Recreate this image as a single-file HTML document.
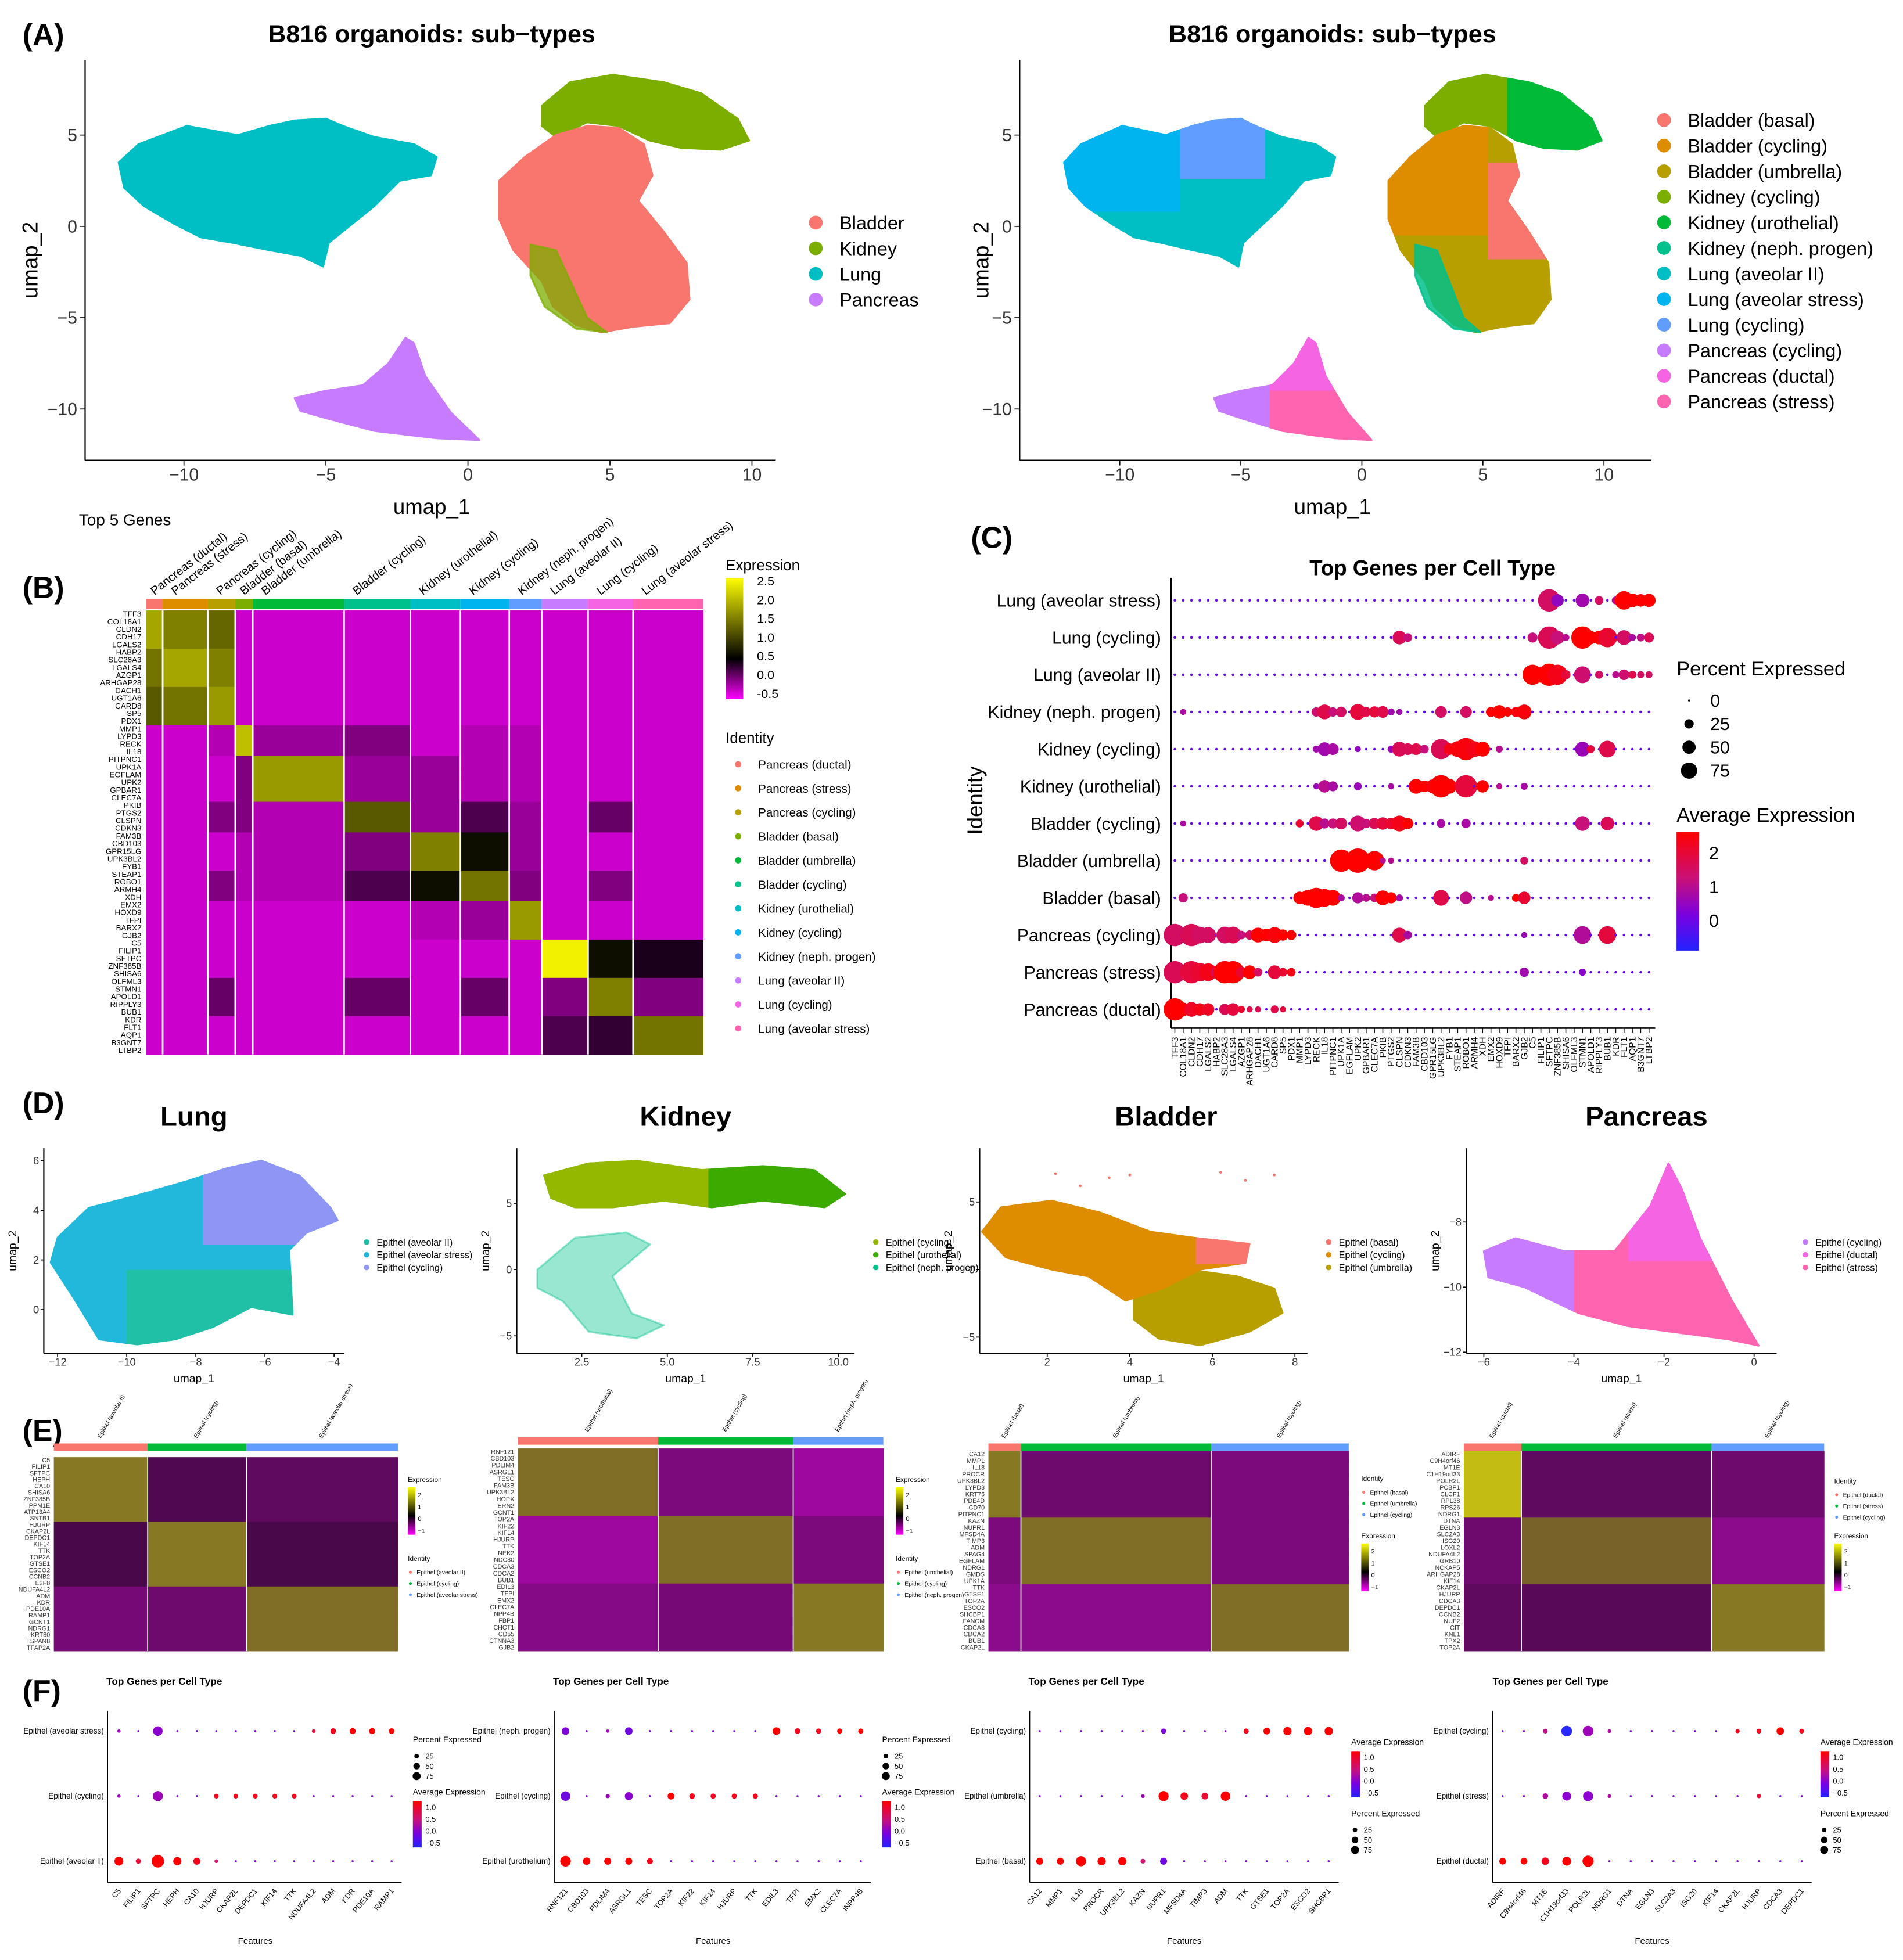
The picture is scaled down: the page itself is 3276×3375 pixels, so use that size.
<!DOCTYPE html>
<html><head><meta charset="utf-8">
<style>html,body{margin:0;padding:0;background:#fff}svg{display:block}text{font-family:"Liberation Sans",Arial,sans-serif}</style>
</head><body>
<svg id="fig" xmlns="http://www.w3.org/2000/svg" width="3276" height="3375" viewBox="0 0 1521 1567">
<defs id="defs">
<linearGradient id="gB" x1="0" y1="0" x2="0" y2="1"><stop offset="0" stop-color="#ffff00"/><stop offset="0.667" stop-color="#000000"/><stop offset="1" stop-color="#ff00ff"/></linearGradient>
<linearGradient id="gC" x1="0" y1="0" x2="0" y2="1"><stop offset="0" stop-color="#ff0000"/><stop offset="0.4" stop-color="#c8107a"/><stop offset="0.7" stop-color="#7a00e0"/><stop offset="1" stop-color="#2222ff"/></linearGradient>
<linearGradient id="gE" x1="0" y1="0" x2="0" y2="1"><stop offset="0" stop-color="#ffff00"/><stop offset="0.6" stop-color="#000000"/><stop offset="1" stop-color="#ff00ff"/></linearGradient>
</defs>
<rect x="0" y="0" width="1521" height="1567" fill="#fff"/>
</svg>
<script>
// ===================== DATA =====================
const genes=['TFF3','COL18A1','CLDN2','CDH17','LGALS2','HABP2','SLC28A3','LGALS4','AZGP1','ARHGAP28','DACH1','UGT1A6','CARD8','SP5','PDX1','MMP1','LYPD3','RECK','IL18','PITPNC1','UPK1A','EGFLAM','UPK2','GPBAR1','CLEC7A','PKIB','PTGS2','CLSPN','CDKN3','FAM3B','CBD103','GPR15LG','UPK3BL2','FYB1','STEAP1','ROBO1','ARMH4','XDH','EMX2','HOXD9','TFPI','BARX2','GJB2','C5','FILIP1','SFTPC','ZNF385B','SHISA6','OLFML3','STMN1','APOLD1','RIPPLY3','BUB1','KDR','FLT1','AQP1','B3GNT7','LTBP2'];
const cellTypes=['Pancreas (ductal)','Pancreas (stress)','Pancreas (cycling)','Bladder (basal)','Bladder (umbrella)','Bladder (cycling)','Kidney (urothelial)','Kidney (cycling)','Kidney (neph. progen)','Lung (aveolar II)','Lung (cycling)','Lung (aveolar stress)'];
const cellColors=['#F8766D','#DE8C00','#B79F00','#7CAE00','#00BA38','#00C08B','#00BFC4','#00B4F0','#619CFF','#C77CFF','#F564E3','#FF64B0'];
const cellCountsB=[13,36,22,14,73,53,40,39,26,37,36,56];
const geneGroupB=[0,0,0,0,0,1,1,1,1,1,2,2,2,2,2,3,3,3,3,4,4,4,4,4,4,5,5,5,5,6,6,6,6,6,7,7,7,7,8,8,8,8,8,9,9,9,9,9,10,10,10,10,10,11,11,11,11,11];
const blockB=[
[1.8,1.5,1.3,-.3,-.3,-.3,-.3,-.3,-.3,-.3,-.3,-.3],
[1.4,1.8,1.5,-.3,-.3,-.3,-.3,-.3,-.3,-.3,-.3,-.3],
[1.2,1.4,1.7,-.3,-.3,-.3,-.3,-.3,-.3,-.3,-.3,-.3],
[-.3,-.3,-.2,2.0,-.1,0.0,-.3,-.2,-.2,-.3,-.3,-.3],
[-.3,-.3,-.3,0.0,1.7,-.1,-.1,-.2,-.2,-.3,-.3,-.3],
[-.3,-.3,0.0,0.0,-.2,1.2,-.1,0.2,-.1,-.3,0.1,-.3],
[-.3,-.3,-.3,-.2,-.2,0.0,1.5,0.6,-.1,-.3,-.3,-.3],
[-.3,-.3,0.0,-.2,-.2,0.2,0.6,1.4,0.0,-.3,0.0,-.3],
[-.3,-.3,-.3,-.3,-.3,-.3,-.2,-.1,1.7,-.3,-.3,-.3],
[-.3,-.3,-.3,-.3,-.3,-.3,-.3,-.3,-.3,2.4,0.6,0.4],
[-.3,-.3,0.1,-.3,-.3,0.1,-.3,0.1,-.3,0.0,1.5,0.0],
[-.3,-.3,-.3,-.3,-.3,-.3,-.3,-.3,-.3,0.2,0.3,1.4]];
const bTicks=['2.5','2.0','1.5','1.0','0.5','0.0','-0.5'];

// Panel A (UMAP outlines, data units)
const lungPoly=[[-12.3,3.5],[-11.6,4.5],[-9.9,5.5],[-8.1,5.0],[-7.0,5.5],[-6.1,5.8],[-5.0,5.9],[-4.4,5.5],[-3.3,4.9],[-1.9,4.5],[-1.1,3.8],[-1.3,2.8],[-2.4,2.5],[-3.3,1.1],[-4.1,0.1],[-4.9,-0.9],[-5.1,-2.2],[-5.9,-1.6],[-7.0,-1.3],[-8.3,-0.9],[-9.4,-0.6],[-10.3,0.1],[-11.4,1.1],[-12.1,2.1]];
const pancPoly=[[-6.1,-9.4],[-5.0,-9.0],[-3.7,-8.7],[-2.8,-7.5],[-2.2,-6.1],[-1.9,-6.4],[-1.5,-8.2],[-0.6,-10.2],[0.4,-11.7],[-1.1,-11.6],[-3.3,-11.2],[-5.0,-10.5],[-5.9,-10.1]];
const kidTopPoly=[[2.6,6.6],[3.6,7.9],[5.1,8.3],[6.9,7.9],[8.2,7.3],[9.5,5.9],[9.9,4.7],[8.9,4.2],[7.5,4.3],[6.4,4.7],[5.3,5.5],[4.2,5.7],[3.1,4.9],[2.6,5.5]];
const kidLowPoly=[[2.2,-1.0],[3.1,-1.3],[4.2,-5.0],[4.9,-5.8],[3.8,-5.6],[2.7,-4.4],[2.2,-2.7]];
const bladPoly=[[1.1,2.5],[2.0,3.8],[3.1,5.0],[4.2,5.5],[5.3,5.4],[6.2,4.5],[6.5,2.8],[6.0,1.4],[6.9,-0.3],[7.7,-2.0],[7.8,-4.0],[7.1,-5.3],[5.8,-5.5],[4.7,-5.8],[3.8,-5.4],[3.0,-4.4],[2.6,-3.0],[1.6,-1.3],[1.1,0.4]];
const tissues=['Bladder','Kidney','Lung','Pancreas'];
const tissueColors=['#F8766D','#7CAE00','#00BFC4','#C77CFF'];
const umapXTicks=[-10,-5,0,5,10];
const umapYTicks=[5,0,-5,-10];

// Panel C dot plot
const rowsC=['Lung (aveolar stress)','Lung (cycling)','Lung (aveolar II)','Kidney (neph. progen)','Kidney (cycling)','Kidney (urothelial)','Bladder (cycling)','Bladder (umbrella)','Bladder (basal)','Pancreas (cycling)','Pancreas (stress)','Pancreas (ductal)'];
const hiC0=[[45,80,1.2],[46,25,0.3],[49,30,0.5],[51,12,1.2],[53,10,0.8],[54,55,2.2],[55,30,2.0],[56,25,2.0],[57,28,2.1]];
const hiC1=[[27,30,1.3],[28,12,1.0],[43,16,1.0],[45,80,1.3],[46,30,1.0],[47,8,0.8],[49,80,2.3],[50,28,2.0],[51,30,2.0],[52,60,1.6],[54,35,1.2],[55,8,0.6],[56,10,0.9],[57,16,1.3]];
const hiC2=[[43,65,2.2],[44,40,2.2],[45,80,2.0],[46,65,1.8],[47,14,1.5],[49,45,1.1],[51,10,1.2],[53,8,0.8],[54,18,1.1],[55,10,1.4],[56,8,1.2],[57,8,1.2]];
const hiC3=[[1,6,0.6],[17,14,1.1],[18,35,1.4],[19,14,1.0],[20,18,1.2],[22,40,1.5],[23,16,1.4],[24,20,1.5],[25,22,1.4],[26,8,0.5],[27,6,0.5],[32,22,1.2],[35,22,1.2],[38,16,2.0],[39,30,2.0],[40,14,2.0],[41,16,1.9],[42,35,1.9]];
const hiC4=[[17,8,0.5],[18,30,0.5],[19,22,0.6],[22,6,0.3],[26,8,0.4],[27,35,1.3],[28,22,1.3],[29,22,1.4],[30,12,1.0],[32,65,1.3],[33,22,1.8],[34,40,1.9],[35,80,1.9],[36,40,1.8],[37,35,2.0],[39,8,0.8],[49,35,0.4],[50,10,1.5],[52,45,1.4]];
const hiC5=[[17,6,0.4],[18,25,0.8],[19,16,0.6],[22,10,0.4],[26,6,0.6],[29,35,2.1],[30,22,2.1],[31,30,1.9],[32,80,2.0],[33,35,2.0],[35,80,1.5],[37,25,2.0],[39,6,0.8],[42,8,0.6]];
const hiC6=[[1,6,0.6],[15,10,1.6],[17,35,1.4],[18,16,0.8],[19,16,1.0],[20,22,1.2],[22,40,1.1],[23,14,1.0],[24,20,1.3],[25,25,1.5],[26,22,1.6],[27,40,1.8],[28,20,2.1],[32,12,0.6],[35,14,0.6],[49,35,1.0],[52,30,1.3]];
const hiC7=[[20,80,2.3],[22,95,2.2],[24,60,2.2],[25,6,0.8],[26,6,0.8],[42,10,1.2]];
const hiC8=[[1,14,1.0],[15,25,2.2],[16,40,2.2],[17,65,2.2],[18,50,2.2],[19,40,2.2],[20,8,0.6],[22,20,0.7],[23,10,0.8],[24,12,1.0],[25,35,2.0],[26,20,2.1],[27,8,0.6],[32,40,1.4],[35,25,0.9],[38,6,0.8],[41,10,2.0],[42,25,1.6]];
const hiC9=[[0,80,1.2],[1,8,0.6],[2,80,1.3],[3,45,1.2],[4,40,1.2],[6,45,1.2],[7,45,1.3],[8,12,1.0],[9,14,1.2],[10,35,2.1],[11,25,2.0],[12,40,1.9],[13,20,2.0],[14,16,2.1],[27,35,1.4],[28,12,0.6],[42,6,0.4],[49,50,0.7],[52,50,1.5]];
const hiC10=[[0,80,1.3],[2,80,1.5],[3,55,1.6],[4,50,1.8],[5,20,1.3],[6,80,2.2],[7,80,2.1],[8,20,1.6],[9,30,2.0],[10,12,1.2],[12,30,1.5],[13,12,1.6],[14,12,1.8],[42,14,0.5],[49,8,0.2]];
const hiC11=[[0,80,2.2],[1,30,2.0],[2,35,1.7],[3,25,1.8],[4,25,1.7],[6,20,1.3],[7,25,1.5],[8,8,1.6],[9,6,1.4],[10,6,1.3],[12,10,1.4],[13,6,1.5]];
const hiC=[hiC0,hiC1,hiC2,hiC3,hiC4,hiC5,hiC6,hiC7,hiC8,hiC9,hiC10,hiC11];
const pctLegend=[0,25,50,75];
const avgLegend=[2,1,0];

// Panel D
const dLungPoly=[[-12.0,2.9],[-11.1,4.1],[-9.7,4.6],[-8.2,5.2],[-7.1,5.7],[-6.1,6.0],[-5.0,5.4],[-4.1,4.1],[-3.9,3.6],[-4.8,3.1],[-5.3,2.4],[-5.2,-0.2],[-6.4,0.1],[-7.5,-0.7],[-8.6,-1.2],[-9.7,-1.4],[-10.8,-1.2],[-11.5,0.4],[-12.2,1.9]];
const dKidTop=[[1.4,7.1],[2.7,8.0],[4.1,8.2],[6.0,7.5],[7.8,7.8],[9.3,7.5],[10.2,5.7],[9.6,4.7],[7.8,5.2],[6.3,4.7],[4.9,5.2],[3.4,4.7],[2.3,4.7],[1.6,5.4]];
const dKidLow=[[1.2,0],[2.3,2.4],[3.8,2.8],[4.5,1.9],[3.4,-0.5],[3.96,-3.3],[4.9,-4.2],[4.1,-5.2],[2.7,-4.7],[1.95,-2.4],[1.2,-1.4]];
const dBladTop=[[0.42,2.8],[0.88,4.6],[2.1,5.1],[3.3,4.2],[4.5,2.8],[5.7,2.3],[6.9,1.9],[6.8,0.5],[5.7,0],[4.8,-1.4],[3.9,-2.3],[3.0,-0.5],[2.1,0],[1.0,0.9]];
const dBladLow=[[4.1,-1.4],[5.4,0],[6.6,-0.5],[7.5,-1.4],[7.7,-3.2],[6.9,-4.6],[5.7,-5.6],[4.7,-5.1],[4.1,-3.7]];
const dBladScatterX=[2.2,3.5,4.0,6.2,7.5,6.8,2.8];
const dBladScatterY=[7.1,6.8,7.0,7.2,7.0,6.6,6.2];
const dPancPoly=[[-6.0,-8.9],[-5.3,-8.5],[-4.2,-8.9],[-3.1,-8.9],[-2.3,-7.5],[-1.9,-6.2],[-1.6,-7.0],[-1.2,-8.5],[-0.5,-10.4],[0.1,-11.8],[-0.6,-11.6],[-1.7,-11.4],[-2.8,-11.2],[-3.9,-10.8],[-5.1,-10.0],[-5.9,-9.7]];

// Panel E heatmaps
const e1Labels=['C5','FILIP1','SFTPC','HEPH','CA10','SHISA6','ZNF385B','PPM1E','ATP13A4','SNTB1','HJURP','CKAP2L','DEPDC1','KIF14','TTK','TOP2A','GTSE1','ESCO2','CCNB2','E2F8','NDUFA4L2','ADM','KDR','PDE10A','RAMP1','GCNT1','NDRG1','KRT80','TSPAN8','TFAP2A'];
const e2Labels=['RNF121','CBD103','PDLIM4','ASRGL1','TESC','FAM3B','UPK3BL2','HOPX','ERN2','GCNT1','TOP2A','KIF22','KIF14','HJURP','TTK','NEK2','NDC80','CDCA3','CDCA2','BUB1','EDIL3','TFPI','EMX2','CLEC7A','INPP4B','FBP1','CHCT1','CD55','CTNNA3','GJB2'];
const e3Labels=['CA12','MMP1','IL18','PROCR','UPK3BL2','LYPD3','KRT75','PDE4D','CD70','PITPNC1','KAZN','NUPR1','MFSD4A','TIMP3','ADM','SPAG4','EGFLAM','NDRG1','GMDS','UPK1A','TTK','GTSE1','TOP2A','ESCO2','SHCBP1','FANCM','CDCA8','CDCA2','BUB1','CKAP2L'];
const e4Labels=['ADIRF','C9H4orf46','MT1E','C1H19orf33','POLR2L','PCBP1','CLCF1','RPL38','RPS26','NDRG1','DTNA','EGLN3','SLC2A3','ISG20','LOXL2','NDUFA4L2','GRB10','NCKAP5','ARHGAP28','KIF14','CKAP2L','HJURP','CDCA3','DEPDC1','CCNB2','NUF2','CIT','KNL1','TPX2','TOP2A'];
const e1Counts=[75,79,121], e2Counts=[112,108,72], e3Counts=[26,152,110], e4Counts=[46,152,90];
const e1Vals=[[1.0,-0.1,-0.2],[-0.05,1.0,-0.05],[-0.35,-0.3,0.9]];
const e2Vals=[[0.9,-0.4,-0.6],[-0.6,0.9,-0.4],[-0.45,-0.35,1.0]];
const e3Vals=[[1.0,-0.3,-0.4],[-0.4,0.9,-0.4],[-0.5,-0.5,0.9]];
const e4Vals=[[1.5,-0.2,-0.3],[-0.3,0.8,-0.5],[-0.2,-0.15,1.0]];
const e1Ids=['Epithel (aveolar II)','Epithel (cycling)','Epithel (aveolar stress)'];
const e2Ids=['Epithel (urothelial)','Epithel (cycling)','Epithel (neph. progen)'];
const e3Ids=['Epithel (basal)','Epithel (umbrella)','Epithel (cycling)'];
const e4Ids=['Epithel (ductal)','Epithel (stress)','Epithel (cycling)'];

// Panel F dot plots
const f1Genes=['C5','FILIP1','SFTPC','HEPH','CA10','HJURP','CKAP2L','DEPDC1','KIF14','TTK','NDUFA4L2','ADM','KDR','PDE10A','RAMP1'];
const f2Genes=['RNF121','CBD103','PDLIM4','ASRGL1','TESC','TOP2A','KIF22','KIF14','HJURP','TTK','EDIL3','TFPI','EMX2','CLEC7A','INPP4B'];
const f3Genes=['CA12','MMP1','IL18','PROCR','UPK3BL2','KAZN','NUPR1','MFSD4A','TIMP3','ADM','TTK','GTSE1','TOP2A','ESCO2','SHCBP1'];
const f4Genes=['ADIRF','C9H4orf46','MT1E','C1H19orf33','POLR2L','NDRG1','DTNA','EGLN3','SLC2A3','ISG20','KIF14','CKAP2L','HJURP','CDCA3','DEPDC1'];
const f1Rows=['Epithel (aveolar stress)','Epithel (cycling)','Epithel (aveolar II)'];
const f2Rows=['Epithel (neph. progen)','Epithel (cycling)','Epithel (urothelium)'];
const f3Rows=['Epithel (cycling)','Epithel (umbrella)','Epithel (basal)'];
const f4Rows=['Epithel (cycling)','Epithel (stress)','Epithel (ductal)'];
const f1Hi=[[[2,40,0.2],[11,14,0.9],[12,16,1.0],[13,16,1.0],[14,14,1.0],[0,5,0.3],[10,6,0.8]],[[2,45,0.3],[5,10,0.9],[6,10,0.9],[7,10,0.9],[8,10,0.9],[9,10,0.9],[0,5,0.3]],[[0,35,1.0],[1,12,0.8],[2,70,1.0],[3,30,1.0],[4,22,0.9],[5,6,0.6]]];
const f2Hi=[[[0,25,0.1],[3,25,0.0],[10,25,1.0],[11,14,0.9],[12,12,0.9],[13,12,1.0],[14,12,1.0],[2,5,0.3]],[[0,40,0.0],[3,28,0.2],[5,20,1.0],[6,14,0.9],[7,12,0.9],[8,12,0.9],[9,12,0.9],[2,8,0.3]],[[0,50,1.0],[1,25,1.0],[2,22,1.0],[3,22,1.0],[4,16,0.9]]];
const f3Hi=[[[10,12,0.9],[11,20,1.0],[12,30,1.0],[13,30,1.0],[14,30,1.0],[6,12,0.1]],[[6,45,1.0],[7,25,0.9],[8,20,0.8],[9,40,1.0],[5,6,0.3]],[[0,22,1.0],[1,22,1.0],[2,45,1.0],[3,30,1.0],[4,30,1.0],[5,10,0.6],[6,22,0.0]]];
const f4Hi=[[[2,10,0.5],[3,50,-0.5],[4,50,0.3],[11,8,0.9],[12,10,0.9],[13,25,1.0],[14,10,0.9],[5,6,0.4]],[[2,14,0.4],[3,35,0.2],[4,45,0.2],[5,6,0.4],[12,8,0.8]],[[0,20,1.0],[1,20,1.0],[2,25,0.9],[3,35,1.0],[4,55,1.0]]];

// ===================== HELPERS =====================
const NS='http://www.w3.org/2000/svg';
const svg=document.getElementById('fig');
const defs=document.getElementById('defs');
function mk(tag,attrs,parent){const e=document.createElementNS(NS,tag);for(const k in attrs)e.setAttribute(k,attrs[k]);(parent||svg).appendChild(e);return e;}
function tx(x,y,s,size,o){o=o||{};const e=mk('text',{x:x,y:y,'font-size':size,'text-anchor':o.a||'start',fill:o.f||'#000','font-weight':o.w||'normal'});if(o.r!==undefined)e.setAttribute('transform','rotate('+o.r+' '+x+' '+y+')');e.textContent=s;return e;}
function lin(d0,d1,r0,r1){return v=>r0+(v-d0)*(r1-r0)/(d1-d0);}
function rgb(a){return 'rgb('+a.map(c=>Math.round(c)).join(',')+')';}
function interp(stops,v){if(v<=stops[0][0])return rgb(stops[0][1]);for(let i=1;i<stops.length;i++){if(v<=stops[i][0]){const t=(v-stops[i-1][0])/(stops[i][0]-stops[i-1][0]);const a=stops[i-1][1],b=stops[i][1];return rgb(a.map((c,k)=>c+(b[k]-c)*t));}}return rgb(stops[stops.length-1][1]);}
const colB=v=>interp([[-0.5,[255,0,255]],[0.5,[0,0,0]],[2.5,[255,255,0]]],v);
const colE=v=>interp([[-1,[230,0,230]],[-0.5,[140,10,140]],[0,[65,8,65]],[1,[135,120,35]],[2,[255,255,0]]],v);
const colC=v=>interp([[-0.8,[34,34,255]],[0,[122,0,224]],[1,[200,16,122]],[2,[255,0,0]]],v);
const colF=v=>interp([[-0.5,[40,40,255]],[0.2,[140,0,210]],[0.6,[210,20,110]],[1,[255,0,0]]],v);
function pathOf(pts,xs,ys){return 'M'+pts.map(p=>xs(p[0]).toFixed(1)+','+ys(p[1]).toFixed(1)).join('L')+'Z';}
let clipN=0;
function clipRect(xs,ys,r){const id='cp'+(clipN++);const cp=mk('clipPath',{id:id},defs);const x0=xs(r[0]),x1=xs(r[1]),y0=ys(r[2]),y1=ys(r[3]);mk('rect',{x:Math.min(x0,x1),y:Math.min(y0,y1),width:Math.abs(x1-x0),height:Math.abs(y1-y0)},cp);return 'url(#'+id+')';}
function blob(pts,xs,ys,fill,clip,op){const e=mk('path',{d:pathOf(pts,xs,ys),fill:fill,stroke:fill,'stroke-width':1.5,'stroke-linejoin':'round','fill-opacity':op||1,'stroke-opacity':op||1});if(clip)e.setAttribute('clip-path',clip);return e;}
function axesLines(xL,xR,yT,yB,xs,ys,xt,yt,fs,xfmt,yfmt){
  let e=mk('line',{x1:xL,y1:yT,x2:xL,y2:yB,stroke:'#000','stroke-width':1});
  
  
  e=mk('line',{x1:xL,y1:yB,x2:xR,y2:yB,stroke:'#000','stroke-width':1});
  
  
  xt.forEach(v=>{const x=xs(v);mk('line',{x1:x,y1:yB,x2:x,y2:yB+fs*0.3,stroke:'#000','stroke-width':0.8});const t=tx(x,yB+fs*1.15,xfmt(v),fs,{a:'middle',f:'#333'});
    
    });
  yt.forEach(v=>{const y=ys(v);mk('line',{x1:xL-fs*0.3,y1:y,x2:xL,y2:y,stroke:'#000','stroke-width':0.8});const t=tx(xL-fs*0.45,y+fs*0.35,yfmt(v),fs,{a:'end',f:'#333'});
    
    });
}
const mfmt=v=>String(v).replace('-','\u2212');

// ===================== PANEL LETTERS =====================
[['(A)',18,36],['(B)',18,478],['(C)',776,438],['(D)',18,890],['(E)',18,1152],['(F)',18,1360]].forEach(p=>{const t=tx(p[1],p[2],p[0],24,{w:'bold'});
  
  });

// ===================== PANEL A =====================
(function(){
  const yA=lin(5,-10,108,327);
  const xA=lin(-10,10,147,601);
  let t=tx(345,34,'B816 organoids: sub\u2212types',20,{a:'middle',w:'bold'});
  
  
  let b=blob(lungPoly,xA,yA,tissueColors[2]);
  
  
  b=blob(pancPoly,xA,yA,tissueColors[3]);
  
  
  b=blob(kidTopPoly,xA,yA,tissueColors[1]);
  
  
  b=blob(bladPoly,xA,yA,tissueColors[0]);
  
  
  b=blob(kidLowPoly,xA,yA,tissueColors[1],null,0.75);
  
  
  axesLines(68,620,48,368,xA,yA,umapXTicks,umapYTicks,14,mfmt,mfmt);
  t=tx(345,411,'umap_1',17,{a:'middle'});
  
  
  t=tx(30,208,'umap_2',17,{a:'middle',r:-90});
  
  
  tissues.forEach((n,i)=>{const y=178+i*20.5;const c=mk('circle',{cx:652,cy:y,r:5.5,fill:tissueColors[i]});
    
    
    const l=tx(671,y+5.5,n,15);
    
    });

  const xB=lin(-10,10,895,1282);
  t=tx(1065,34,'B816 organoids: sub\u2212types',20,{a:'middle',w:'bold'});
  
  
  b=blob(lungPoly,xB,yA,cellColors[6]);
  
  
  b=blob(lungPoly,xB,yA,cellColors[7],clipRect(xB,yA,[-13,-7.5,0.8,7]));
  
  
  b=blob(lungPoly,xB,yA,cellColors[8],clipRect(xB,yA,[-7.5,-4,2.6,7]));
  
  
  b=blob(pancPoly,xB,yA,cellColors[11]);
  
  
  b=blob(pancPoly,xB,yA,cellColors[9],clipRect(xB,yA,[-7,-3.8,-13,-5]));
  
  
  b=blob(pancPoly,xB,yA,cellColors[10],clipRect(xB,yA,[-3.8,-1.2,-9,-5]));
  
  
  b=blob(kidTopPoly,xB,yA,cellColors[4]);
  
  
  b=blob(kidTopPoly,xB,yA,cellColors[3],clipRect(xB,yA,[2,6,3,9]));
  
  
  b=blob(bladPoly,xB,yA,cellColors[2]);
  
  
  b=blob(bladPoly,xB,yA,cellColors[1],clipRect(xB,yA,[0,5.2,-0.5,6]));
  
  
  b=blob(bladPoly,xB,yA,cellColors[0],clipRect(xB,yA,[5.2,8.5,-1.8,3.5]));
  
  
  b=blob(kidLowPoly,xB,yA,cellColors[5],null,0.85);
  
  
  axesLines(815,1320,48,368,xB,yA,umapXTicks,umapYTicks,14,mfmt,mfmt);
  t=tx(1065,411,'umap_1',17,{a:'middle'});
  
  
  t=tx(790,208,'umap_2',17,{a:'middle',r:-90});
  
  
  const legNames=['Bladder (basal)','Bladder (cycling)','Bladder (umbrella)','Kidney (cycling)','Kidney (urothelial)','Kidney (neph. progen)','Lung (aveolar II)','Lung (aveolar stress)','Lung (cycling)','Pancreas (cycling)','Pancreas (ductal)','Pancreas (stress)'];
  const legCols=['#F8766D','#DE8C00','#B79F00','#7CAE00','#00BA38','#00C08B','#00BFC4','#00B4F0','#619CFF','#C77CFF','#F564E3','#FF64B0'];
  legNames.forEach((n,i)=>{const y=96+i*20.45;const c=mk('circle',{cx:1330,cy:y,r:5.5,fill:legCols[i]});
    
    
    const l=tx(1349,y+5.5,n,15);
    
    });
})();

// ===================== PANEL B =====================
(function(){
  let t=tx(63,420,'Top 5 Genes',13);
  
  
  const x0=117,y0=488,y1=843,h=(y1-y0)/genes.length;
  const starts=[];let acc=x0;cellCountsB.forEach(w=>{starts.push(acc);acc+=w;});
  cellCountsB.forEach((w,c)=>{
    const r=mk('rect',{x:starts[c],y:479,width:w,height:8,fill:cellColors[c]});
    
    
    const l=tx(starts[c]+Math.min(w/2,10),476,cellTypes[c],9.5,{r:-38});
    
    
  });
  genes.forEach((g,r)=>{
    cellCountsB.forEach((w,c)=>{
      const cell=mk('rect',{x:starts[c],y:y0+r*h,width:w+0.2,height:h+0.2,fill:colB(blockB[geneGroupB[r]][c])});
      
      
    });
    const l=tx(113,y0+r*h+h*0.8,g,6.2,{a:'end'});
    
    
  });
  starts.slice(1).forEach(x=>{const ln=mk('line',{x1:x,y1:y0,x2:x,y2:y1,stroke:'#fff','stroke-width':1.3});
    
    });
  t=tx(580,456,'Expression',12);
  
  
  const g=mk('rect',{x:580,y:462,width:14,height:97,fill:'url(#gB)'});
  
  
  bTicks.forEach((s,i)=>{const l=tx(605,468+i*15,s,10);
    
    });
  t=tx(580,594,'Identity',12);
  
  
  cellTypes.forEach((n,i)=>{const y=611+i*19.2;const c=mk('circle',{cx:590,cy:y,r:2.5,fill:cellColors[i]});
    
    
    const l=tx(606,y+3.5,n,9.5);
    
    });
})();

// ===================== PANEL C =====================
(function(){
  const xC=lin(0,57,939,1318), yC=lin(0,11,480,807);
  let t=tx(1145,460,'Top Genes per Cell Type',17,{a:'middle',w:'bold'});
  
  
  let e=mk('line',{x1:936,y1:462,x2:936,y2:822,stroke:'#000','stroke-width':1.2});
  
  
  e=mk('line',{x1:936,y1:822,x2:1323,y2:822,stroke:'#000','stroke-width':1.2});
  
  
  rowsC.forEach((n,r)=>{
    const l=tx(928,yC(r)+5,n,14,{a:'end'});
    
    
    genes.forEach((g,i)=>{
      const h=hiC[r].find(q=>q[0]===i);
      const pct=h?h[1]:1.1, avg=h?h[2]:-0.2;
      const d=mk('circle',{cx:xC(i),cy:yC(r),r:Math.sqrt(pct)*1.0,fill:colC(avg)});
      
      
    });
  });
  genes.forEach((g,i)=>{
    mk('line',{x1:xC(i),y1:822,x2:xC(i),y2:826,stroke:'#000','stroke-width':0.7});
    const l=tx(xC(i)+2.5,829,g,7.3,{a:'end',r:-90});
    
    
  });
  t=tx(785,640,'Identity',17,{a:'middle',r:-90});
  
  
  t=tx(1340,540,'Percent Expressed',16);
  
  
  pctLegend.forEach((p,i)=>{const y=560+i*18.7;const c=mk('circle',{cx:1350,cy:y,r:Math.max(0.8,Math.sqrt(p)*0.75),fill:'#000'});
    
    
    const l=tx(1367,y+5,String(p),14);
    
    });
  t=tx(1340,657,'Average Expression',16);
  
  
  const g=mk('rect',{x:1340,y:665,width:18,height:95,fill:'url(#gC)'});
  
  
  avgLegend.forEach((v,i)=>{const l=tx(1366,687+i*27,String(v),14);
    
    });
})();

// ===================== PANEL D =====================
function dPanel(title,tx0,xs,ys,xL,xR,xt,yt,xf,legX,legNames,legCols){
  let t=tx(tx0,900,title,22,{a:'middle',w:'bold'});
  
  
  axesLines(xL,xR,918,1082,xs,ys,xt,yt,8.5,xf,mfmt);
  t=tx((xL+xR)/2,1105,'umap_1',9,{a:'middle'});
  
  
  t=tx(xL-22,1000,'umap_2',9,{a:'middle',r:-90});
  
  
  legNames.forEach((n,i)=>{const y=993+i*10.2;const c=mk('circle',{cx:legX,cy:y,r:2.2,fill:legCols[i]});
    
    
    const l=tx(legX+8,y+2.8,n,7.5);
    
    });
}
(function(){
  const f1=v=>mfmt(v);
  let xs=lin(-12,-4,46,267), ys=lin(0,6,1047,928);
  let b=blob(dLungPoly,xs,ys,'#22B8DC');
  
  
  b=blob(dLungPoly,xs,ys,'#20C0A6',clipRect(xs,ys,[-10,-4,-3,1.6]));
  
  
  b=blob(dLungPoly,xs,ys,'#8F95F5',clipRect(xs,ys,[-7.8,-3,2.6,7]));
  
  
  dPanel('Lung',155,xs,ys,35,275,[-12,-10,-8,-6,-4],[0,2,4,6],f1,293,['Epithel (aveolar II)','Epithel (aveolar stress)','Epithel (cycling)'],['#20C0A6','#22B8DC','#8F95F5']);
  xs=lin(2.5,10,465,670); ys=lin(0,5,1015,962);
  b=blob(dKidLow,xs,ys,'#00C08B',null,0.4);
  
  
  b=blob(dKidTop,xs,ys,'#3DAA00');
  
  
  b=blob(dKidTop,xs,ys,'#94B800',clipRect(xs,ys,[0,6.2,0,10]));
  
  
  dPanel('Kidney',548,xs,ys,413,683,[2.5,5,7.5,10],[-5,0,5],v=>v.toFixed(1),700,['Epithel (cycling)','Epithel (urothelial)','Epithel (neph. progen)'],['#94B800','#3DAA00','#00C08B']);
  xs=lin(2,8,837,1035); ys=lin(0,5,1015,961);
  b=blob(dBladLow,xs,ys,'#B79F00');
  
  
  b=blob(dBladTop,xs,ys,'#DE8C00');
  
  
  b=blob(dBladTop,xs,ys,'#F8766D',clipRect(xs,ys,[5.6,8,0.4,3]));
  
  
  dBladScatterX.forEach((v,i)=>{const c=mk('circle',{cx:xs(v),cy:ys(dBladScatterY[i]),r:1.1,fill:'#F8766D'});
    
    });
  dPanel('Bladder',932,xs,ys,783,1045,[2,4,6,8],[-5,0,5],v=>String(v),1062,['Epithel (basal)','Epithel (cycling)','Epithel (umbrella)'],['#F8766D','#DE8C00','#B79F00']);
  xs=lin(-6,0,1186,1402); ys=lin(-8,-12,977,1081);
  b=blob(dPancPoly,xs,ys,'#FF64B0');
  
  
  b=blob(dPancPoly,xs,ys,'#C77CFF',clipRect(xs,ys,[-7,-4,-13,-7]));
  
  
  b=blob(dPancPoly,xs,ys,'#F564E3',clipRect(xs,ys,[-2.8,-0.8,-9.2,-5]));
  
  
  dPanel('Pancreas',1316,xs,ys,1172,1420,[-6,-4,-2,0],[-8,-10,-12],f1,1443,['Epithel (cycling)','Epithel (ductal)','Epithel (stress)'],['#C77CFF','#F564E3','#FF64B0']);
})();

// ===================== PANEL E =====================
function ePanel(x0,x1,yBar,y0,y1,counts,vals,labels,ids,legX,idY,exY){
  const tot=counts.reduce((a,b)=>a+b,0);const sc=(x1-x0)/tot;
  const starts=[];let acc=x0;counts.forEach(c=>{starts.push(acc);acc+=c*sc;});
  const barCols=['#F8766D','#00BA38','#619CFF'];
  const h=(y1-y0)/labels.length;
  counts.forEach((c,k)=>{
    const r=mk('rect',{x:starts[k],y:yBar,width:c*sc,height:6,fill:barCols[k]});
    
    
    const l=tx(starts[k]+c*sc/2,yBar-4,ids[k],4.8,{r:-60});
    
    
  });
  labels.forEach((g,r)=>{
    const grp=Math.floor(r/10);
    counts.forEach((c,k)=>{
      const cell=mk('rect',{x:starts[k],y:y0+r*h,width:c*sc+0.2,height:h+0.2,fill:colE(vals[grp][k])});
      
      
    });
    const l=tx(x0-3,y0+r*h+h*0.8,g,5,{a:'end',f:'#333'});
    
    
  });
  starts.slice(1).forEach(x=>{const ln=mk('line',{x1:x,y1:y0,x2:x,y2:y1,stroke:'#fff','stroke-width':0.8});
    
    });
  let t=tx(legX,exY,'Expression',5.5);
  
  
  const g=mk('rect',{x:legX,y:exY+4,width:6,height:38,fill:'url(#gE)'});
  
  
  ['2','1','0','\u22121'].forEach((s,i)=>{const l=tx(legX+8,exY+12+i*9.5,s,5);
    
    });
  t=tx(legX,idY,'Identity',5.5);
  
  
  ids.forEach((n,i)=>{const y=idY+9+i*9;const c=mk('circle',{cx:legX+2,cy:y,r:1.2,fill:barCols[i]});
    
    
    const l=tx(legX+7,y+1.8,n,4.8);
    
    });
}
ePanel(43,318,1154,1165,1320,e1Counts,e1Vals,e1Labels,e1Ids,326,1248,1185);
ePanel(414,706,1149,1158,1320,e2Counts,e2Vals,e2Labels,e2Ids,716,1248,1185);
ePanel(790,1078,1154,1160,1320,e3Counts,e3Vals,e3Labels,e3Ids,1088,1184,1230);
ePanel(1170,1458,1154,1160,1320,e4Counts,e4Vals,e4Labels,e4Ids,1466,1186,1230);

// ===================== PANEL F =====================
function fPanel(axX,gx0,gx1,geneList,rows,hi,titleX,legX,avgFirst){
  const xs=lin(0,geneList.length-1,gx0,gx1), ys=lin(0,2,1384,1488);
  let t=tx(titleX,1347,'Top Genes per Cell Type',8,{w:'bold'});
  
  
  let e=mk('line',{x1:axX,y1:1368,x2:axX,y2:1505,stroke:'#000','stroke-width':0.7});
  
  
  e=mk('line',{x1:axX,y1:1505,x2:gx1+8,y2:1505,stroke:'#000','stroke-width':0.7});
  
  
  rows.forEach((n,r)=>{
    const l=tx(axX-3,ys(r)+2,n,6.3,{a:'end'});
    
    
    geneList.forEach((g,i)=>{
      const h=hi[r].find(q=>q[0]===i);
      const pct=h?h[1]:1.8, avg=h?h[2]:0.1;
      const d=mk('circle',{cx:xs(i),cy:ys(r),r:Math.sqrt(pct)*0.6,fill:colF(avg)});
      
      
    });
  });
  geneList.forEach((g,i)=>{
    const l=tx(xs(i)+2,1512,g,6,{a:'end',r:-50});
    
    
  });
  t=tx((gx0+gx1)/2,1554,'Features',7,{a:'middle'});
  
  
  const pY=avgFirst?1452:1393, aY=avgFirst?1395:1435;
  t=tx(legX,pY,'Percent Expressed',6.5);
  
  
  [25,50,75].forEach((p,i)=>{const y=pY+11+i*8;const c=mk('circle',{cx:legX+3,cy:y,r:Math.sqrt(p)*0.37,fill:'#000'});
    
    
    const l=tx(legX+10,y+2.2,String(p),6);
    
    });
  t=tx(legX,aY,'Average Expression',6.5);
  
  
  const g=mk('rect',{x:legX,y:aY+5,width:7,height:37,fill:'url(#gC)'});
  
  
  ['1.0','0.5','0.0','\u22120.5'].forEach((s,i)=>{const l=tx(legX+10,aY+12+i*9.5,s,6);
    
    });
}
fPanel(86,95,313,f1Genes,f1Rows,f1Hi,85,330,false);
fPanel(443,452,688,f2Genes,f2Rows,f2Hi,442,705,false);
fPanel(823,831,1062,f3Genes,f3Rows,f3Hi,822,1080,true);
fPanel(1193,1201,1440,f4Genes,f4Rows,f4Hi,1193,1455,true);
</script>
</body></html>
